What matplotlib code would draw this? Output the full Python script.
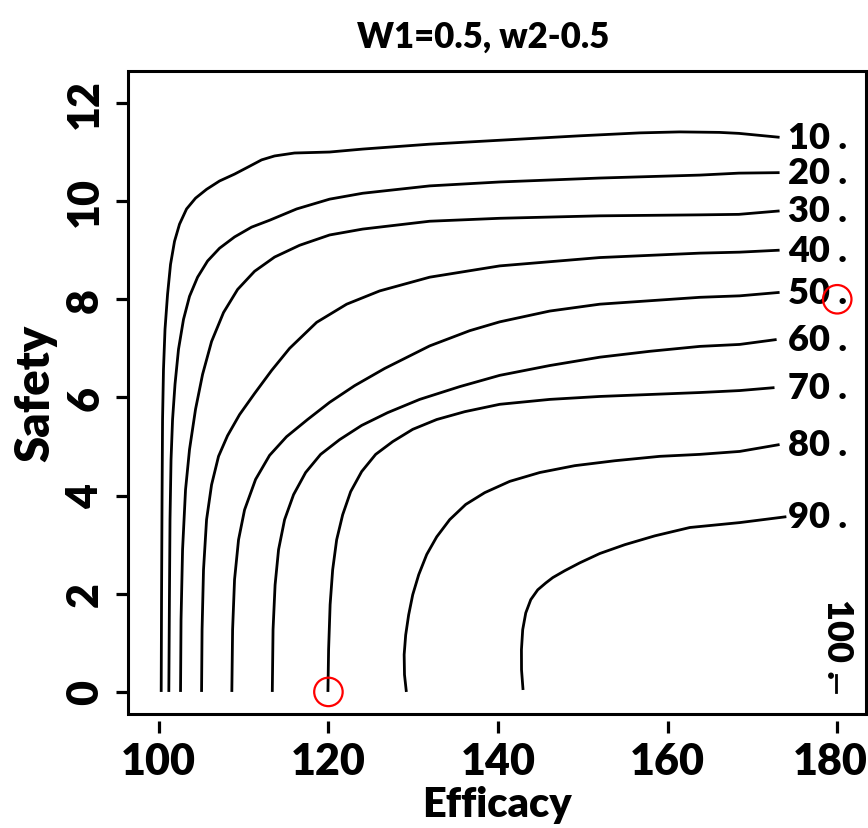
import matplotlib
matplotlib.use('Agg')
import matplotlib.pyplot as plt
import matplotlib.transforms as mtransforms
from matplotlib.patches import Rectangle

plt.rcParams['font.family'] = ['Lato', 'DejaVu Sans']
plt.rcParams['font.weight'] = 'heavy'

# contour levels and lines (efficacy, safety)
levels = [10, 20, 30, 40, 50, 60, 70, 80, 90]

eff_10 = [100.28, 100.32, 100.38, 100.44, 100.55, 100.73, 101.03, 101.38, 101.85, 102.44, 103.27,
          104.33, 105.63, 107.16, 108.93, 110.70, 112.12, 113.65, 116.0, 120.14, 124.04, 131.94,
          140.2, 149.6, 156.7, 161.4, 166.1, 168.4, 173.2]
saf_10 = [0, 1.88, 3.92, 5.55, 6.57, 7.39, 8.10, 8.71, 9.18, 9.53, 9.84,
          10.06, 10.24, 10.41, 10.55, 10.71, 10.84, 10.92, 10.98, 11.0, 11.06, 11.16,
          11.24, 11.33, 11.39, 11.41, 11.40, 11.38, 11.30]

eff_20 = [101.18, 101.25, 101.32, 101.44, 101.62, 101.91, 102.32, 102.91, 103.62, 104.57, 105.75,
          107.16, 108.93, 110.94, 113.06, 116.25, 120.14, 124.04, 131.94, 140.2, 152.0, 163.8,
          168.4, 173.2]
saf_20 = [0, 1.88, 3.51, 4.73, 5.55, 6.27, 6.98, 7.59, 8.06, 8.45, 8.78,
          9.04, 9.27, 9.47, 9.61, 9.84, 10.04, 10.16, 10.31, 10.39, 10.47, 10.53,
          10.57, 10.58]

eff_30 = [102.56, 102.62, 102.8, 103.15, 103.62, 104.33, 105.16, 106.22, 107.63, 109.29, 111.29,
          113.65, 116.6, 120.14, 124.04, 131.94, 140.2, 152.0, 163.8, 168.4, 173.2]
saf_30 = [0, 1.47, 2.9, 4.12, 4.94, 5.76, 6.47, 7.14, 7.73, 8.2, 8.57,
          8.86, 9.1, 9.31, 9.43, 9.59, 9.65, 9.70, 9.72, 9.73, 9.80]

eff_40 = [105.04, 105.1, 105.27, 105.63, 106.22, 107.04, 108.1, 109.52, 111.29, 113.3, 115.42,
          118.61, 122.15, 126.04, 131.94, 140.2, 152.0, 163.8, 168.5, 173.2]
saf_40 = [0, 1.27, 2.49, 3.51, 4.22, 4.8, 5.22, 5.65, 6.08, 6.55, 7.0,
          7.53, 7.9, 8.17, 8.45, 8.68, 8.85, 8.94, 8.96, 9.0]

eff_50 = [108.61, 108.7, 108.93, 109.4, 110.11, 111.41, 113.06, 115.06, 117.54, 120.14, 123.09,
          126.63, 131.94, 136.66, 140.2, 146.1, 152.0, 163.8, 168.5, 173.2]
saf_50 = [0, 1.27, 2.29, 3.1, 3.71, 4.33, 4.82, 5.2, 5.55, 5.9, 6.24,
          6.59, 7.05, 7.36, 7.54, 7.76, 7.9, 8.04, 8.07, 8.14]

eff_60 = [113.38, 113.47, 113.71, 114.12, 114.83, 115.89, 117.31, 119.08, 121.32, 123.92, 126.98,
          130.76, 135.48, 140.2, 146.1, 152.0, 157.9, 163.8, 168.5, 172.85]
saf_60 = [0, 1.27, 2.18, 2.9, 3.51, 4.02, 4.47, 4.84, 5.14, 5.43, 5.69,
          5.96, 6.22, 6.45, 6.65, 6.82, 6.94, 7.04, 7.08, 7.18]

eff_70 = [119.94, 120.02, 120.2, 120.5, 120.97, 121.68, 122.62, 123.92, 125.57, 127.58, 129.94,
          132.77, 136.08, 140.2, 146.1, 152.0, 163.8, 168.5, 172.6]
saf_70 = [0, 0.86, 1.78, 2.49, 3.1, 3.61, 4.08, 4.49, 4.84, 5.1, 5.35,
          5.55, 5.71, 5.86, 5.96, 6.02, 6.1, 6.14, 6.2]

eff_80 = [129.19, 128.97, 128.93, 129.11, 129.46, 129.94, 130.65, 131.59, 132.77, 134.3, 136.19,
          138.43, 141.38, 144.92, 149.05, 153.77, 159.08, 163.8, 168.5, 173.2]
saf_80 = [0, 0.35, 0.76, 1.16, 1.57, 1.98, 2.39, 2.8, 3.16, 3.51, 3.82,
          4.06, 4.29, 4.47, 4.61, 4.71, 4.8, 4.84, 4.9, 5.04]

eff_90 = [142.95, 142.77, 142.76, 142.91, 143.27, 143.86, 144.68, 145.63, 146.46, 147.87, 149.64,
          152.0, 154.95, 158.49, 162.62, 168.5, 174.0]
saf_90 = [0.04, 0.45, 0.86, 1.27, 1.61, 1.88, 2.08, 2.22, 2.33, 2.47, 2.63,
          2.82, 3.0, 3.18, 3.35, 3.45, 3.57]

eff_100 = [179.9, 179.9]
saf_100 = [0, 0.35]

# marked points (red circles)
mark_eff = [120, 180]
mark_saf = [0, 8]

lines = [(eff_10, saf_10), (eff_20, saf_20), (eff_30, saf_30), (eff_40, saf_40),
         (eff_50, saf_50), (eff_60, saf_60), (eff_70, saf_70), (eff_80, saf_80),
         (eff_90, saf_90)]

fig = plt.figure(figsize=(8.68, 8.29), dpi=100)
ax = fig.add_axes([0.1478, 0.1375, 0.8495, 0.7756])

for lev, (ex, sy) in zip(levels, lines):
    ax.plot(ex, sy, color='black', lw=2.0, solid_capstyle='butt', solid_joinstyle='round')
    ax.text(174.2, sy[-1], '%d .' % lev, fontsize=26, ha='left', va='center')

ax.plot(eff_100, saf_100, color='black', lw=2.0)
ax.text(180.0, 1.1, '100 .', fontsize=26, ha='center', va='center', rotation=-90)

ax.scatter(mark_eff, mark_saf, s=420, facecolors='none', edgecolors='red', linewidths=1.6, zorder=5)

ax.set_xlim(96.4, 183.35)
ax.set_ylim(-0.45, 12.65)
ax.set_xticks([100, 120, 140, 160, 180])
ax.set_yticks([0, 2, 4, 6, 8, 10, 12])

# box drawn separately so the x ticks can sit a bit below it, like R's axis
for s in ax.spines.values():
    s.set_visible(False)
ax.spines['bottom'].set_position(('outward', 5))
ax.add_patch(Rectangle((0, 0), 1, 1, transform=ax.transAxes, fill=False,
                       lw=2.2, edgecolor='black', clip_on=False, zorder=6))

ax.tick_params(axis='both', direction='out', length=8.6, width=2.3, labelsize=31)
ax.tick_params(axis='x', pad=6)
ax.tick_params(axis='y', pad=8)
for lab in ax.get_yticklabels():
    lab.set_rotation(90)
    lab.set_va('center')

# nudge the last x label so it stays inside the picture
last = ax.get_xticklabels()[-1]
last.set_transform(last.get_transform() + mtransforms.ScaledTranslation(-5 / 72, 0, fig.dpi_scale_trans))

ax.set_xlabel('Efficacy', fontsize=30, fontweight='heavy', labelpad=3)
ax.set_ylabel('Safety', fontsize=34, fontweight='heavy', labelpad=6)
fig.text(0.557, 0.955, 'W1=0.5, w2-0.5', fontsize=25, fontweight='heavy', ha='center', va='center')

fig.savefig('out.png', dpi=100)
